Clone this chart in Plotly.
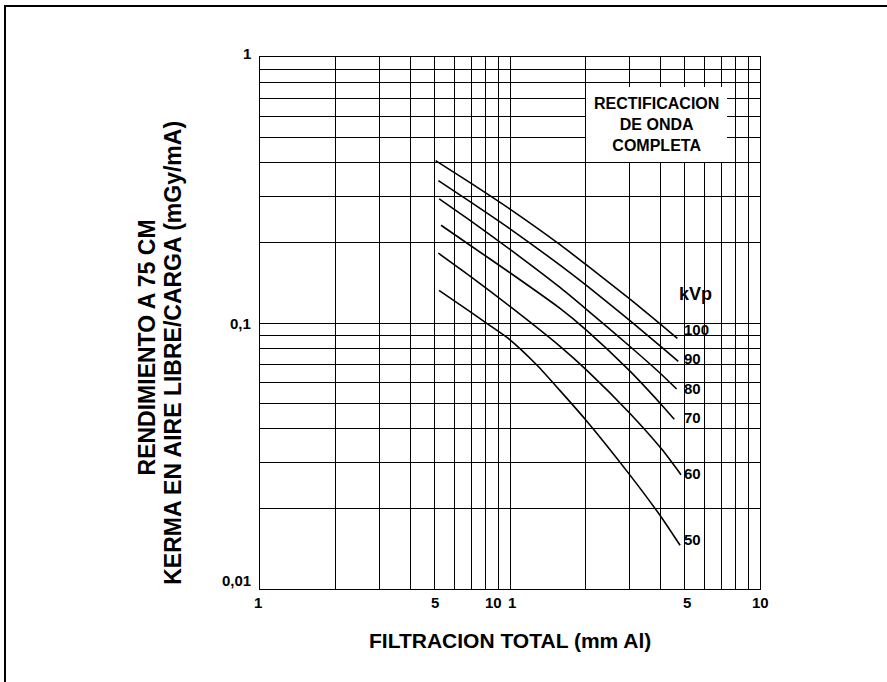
import math
import plotly.graph_objects as go

# ---- data ----
KVP = ["100", "90", "80", "70", "60", "50"]
X_100 = [5.04, 6.92, 10.0, 15.85, 20.1, 30.2, 40.5, 46.7]
Y_100 = [0.408, 0.337, 0.268, 0.197, 0.166, 0.123, 0.098, 0.0876]
X_90 = [5.17, 6.92, 10.0, 15.85, 20.1, 30.2, 40.5, 47.1]
Y_90 = [0.343, 0.286, 0.226, 0.165, 0.139, 0.102, 0.081, 0.0718]
X_80 = [5.21, 6.92, 10.0, 15.85, 20.1, 30.2, 39.2, 46.4]
Y_80 = [0.293, 0.243, 0.189, 0.136, 0.113, 0.0816, 0.0657, 0.0565]
X_70 = [5.30, 6.92, 10.0, 15.85, 20.1, 30.2, 40.5, 45.4]
Y_70 = [0.233, 0.196, 0.1545, 0.1135, 0.0945, 0.0659, 0.0491, 0.0435]
X_60 = [5.17, 6.92, 10.0, 15.85, 20.3, 30.2, 40.5, 48.3]
Y_60 = [0.183, 0.150, 0.1154, 0.0817, 0.0664, 0.0457, 0.0335, 0.0269]
X_50 = [5.20, 6.92, 8.07, 9.84, 12.8, 15.85, 20.1, 30.2, 40.5, 47.9]
Y_50 = [0.1326, 0.1104, 0.0997, 0.0875, 0.0695, 0.0557, 0.0432, 0.0268, 0.0185, 0.0146]

KVP_LABEL_X = 48.8
KVP_LABEL_Y = [0.0944, 0.0734, 0.0566, 0.0442, 0.0272, 0.0153]

X_GRID = [1, 2, 3, 4, 5, 6, 7, 8, 9, 10, 20, 30, 40, 50, 60, 70, 80, 90, 100]
Y_GRID = [0.01, 0.02, 0.03, 0.04, 0.05, 0.06, 0.07, 0.08, 0.09,
          0.1, 0.2, 0.3, 0.4, 0.5, 0.6, 0.7, 0.8, 0.9, 1]

X_TICK_VALS = [1, 5, 10, 10, 50, 100]
X_TICK_TEXT = ["1", "5", "10", "1", "5", "10"]
X_TICK_SHIFT = [-2, 0, -17, 2, 2, 0]

Y_TICK_VALS = [1, 0.1, 0.01]
Y_TICK_TEXT = ["1", "0,1", "0,01"]
Y_TICK_SHIFT = [4, 0, 9]

X_TITLE = "FILTRACION TOTAL (mm Al)"
Y_TITLE_1 = "RENDIMIENTO A 75 CM"
Y_TITLE_2 = "KERMA EN AIRE LIBRE/CARGA (mGy/mA)"
BOX_TEXT = "RECTIFICACION<br>DE ONDA<br>COMPLETA"

FONT = "Liberation Sans, Arial, sans-serif"

series = [(X_100, Y_100), (X_90, Y_90), (X_80, Y_80),
          (X_70, Y_70), (X_60, Y_60), (X_50, Y_50)]

fig = go.Figure()
for name, (xs, ys) in zip(KVP, series):
    fig.add_trace(go.Scatter(
        x=xs, y=ys, mode="lines", name=name + " kVp",
        line=dict(color="black", width=1.6, shape="spline", smoothing=0.6),
        showlegend=False, hoverinfo="skip"))

ann = []
# x tick labels
for v, t, s in zip(X_TICK_VALS, X_TICK_TEXT, X_TICK_SHIFT):
    ann.append(dict(x=math.log10(v), y=0, xref="x", yref="paper",
                    text=t, showarrow=False, xanchor="center", yanchor="middle",
                    xshift=s, yshift=-13,
                    font=dict(family=FONT, size=15, color="black", weight="bold")))
# y tick labels
for v, t, s in zip(Y_TICK_VALS, Y_TICK_TEXT, Y_TICK_SHIFT):
    ann.append(dict(x=0, y=math.log10(v), xref="paper", yref="y",
                    text=t, showarrow=False, xanchor="right", yanchor="middle",
                    xshift=-7, yshift=s,
                    font=dict(family=FONT, size=15, color="black", weight="bold")))
# kVp labels
for t, v in zip(KVP, KVP_LABEL_Y):
    ann.append(dict(x=math.log10(KVP_LABEL_X), y=math.log10(v), xref="x", yref="y",
                    text=t, showarrow=False, xanchor="left", yanchor="middle",
                    font=dict(family=FONT, size=15, color="black", weight="bold")))
ann.append(dict(x=math.log10(46.4), y=math.log10(0.129), xref="x", yref="y",
                text="kVp", showarrow=False, xanchor="left", yanchor="middle",
                font=dict(family=FONT, size=18, color="black", weight="bold")))
# box text
ann.append(dict(x=math.log10(38.7), y=math.log10(0.556), xref="x", yref="y",
                text=BOX_TEXT, showarrow=False, xanchor="center", yanchor="middle",
                bgcolor="white", borderpad=8, borderwidth=0,
                font=dict(family=FONT, size=16, color="black", weight="bold")))
# titles
ann.append(dict(x=0.5, y=-0.0972, xref="paper", yref="paper", text=X_TITLE,
                showarrow=False, xanchor="center", yanchor="middle",
                font=dict(family=FONT, size=21, color="black", weight="bold")))
ann.append(dict(x=-0.226, y=0.454, xref="paper", yref="paper", text=Y_TITLE_1,
                showarrow=False, xanchor="center", yanchor="middle", textangle=-90,
                font=dict(family=FONT, size=23, color="black", weight="bold")))
ann.append(dict(x=-0.174, y=0.444, xref="paper", yref="paper", text=Y_TITLE_2,
                showarrow=False, xanchor="center", yanchor="middle", textangle=-90,
                font=dict(family=FONT, size=23, color="black", weight="bold")))

axis_common = dict(type="log", showgrid=True, gridcolor="black", gridwidth=1,
                   showline=True, linecolor="black", linewidth=1, mirror=True,
                   ticks="", showticklabels=False, zeroline=False, fixedrange=True)

fig.update_layout(
    width=887, height=682,
    margin=dict(l=260, r=127, t=57, b=93),
    paper_bgcolor="white", plot_bgcolor="white",
    xaxis=dict(range=[0, 2], tickvals=X_GRID, **axis_common),
    yaxis=dict(range=[-2, 0], tickvals=Y_GRID, **axis_common),
    annotations=ann,
    shapes=[dict(type="path", xref="paper", yref="paper",
                 path="M -0.51,-0.3 L -0.51,1.0959 L 1.4,1.0959",
                 line=dict(color="black", width=2))],
)

fig.write_html("out.html",
               config={"displayModeBar": False},
               post_script="document.body.style.margin='0';document.body.style.overflow='hidden';")
